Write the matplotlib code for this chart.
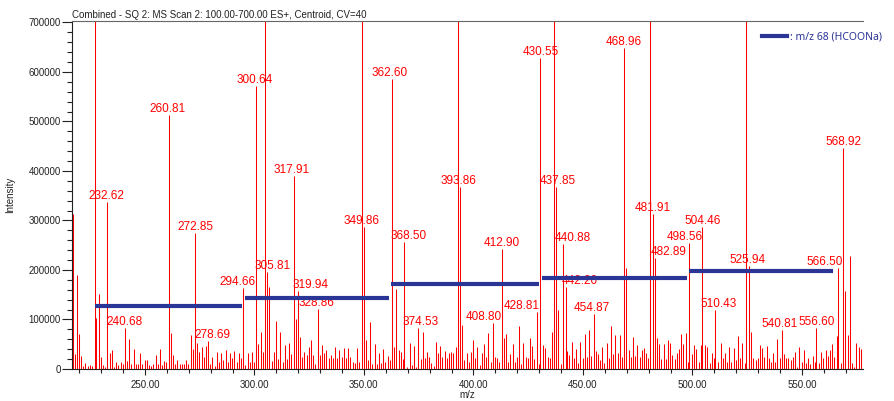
import matplotlib
matplotlib.use("Agg")
import matplotlib.pyplot as plt
from matplotlib.ticker import MultipleLocator, FormatStrFormatter
from matplotlib.lines import Line2D
import numpy as np

plt.rcParams['font.family'] = ['Liberation Sans', 'DejaVu Sans']

# labelled peaks (m/z, intensity)
peak_mz = [232.62, 240.68, 260.81, 272.85, 278.69, 294.66, 300.64, 305.81, 317.91, 319.94,
           328.86, 349.86, 362.60, 368.50, 374.53, 393.86, 408.80, 412.90, 428.81, 430.55,
           437.85, 440.88, 442.20, 454.87, 468.96, 481.91, 482.89, 498.56, 504.46, 510.43,
           525.94, 540.81, 556.60, 566.50, 568.92]
peak_int = [337000, 83000, 513000, 274000, 57000, 163000, 572000, 195000, 390000, 158000,
            121000, 286000, 586000, 257000, 83000, 367000, 92000, 242000, 116000, 628000,
            367000, 252000, 166000, 111000, 648000, 313000, 225000, 254000, 287000, 120000,
            209000, 78000, 83000, 205000, 446000]
# sideways nudge of some labels (pixels), as the instrument software placed them
label_shift = [0, 0, -1, 0, 5, -5, -1, 5, -2, 12,
               -1, -2, -2, 4, 3, -1, -9, 0, -15, 0,
               1, 10, 14, -2, -1, 0, 14, -5, 0, 3,
               -2, -2, 0, -13, 0]

# off-scale peaks (run past the top of the plot)
tall_mz = [227.0, 304.8, 349.0, 392.9, 436.8, 480.6, 524.4]
tall_int = [950000, 950000, 950000, 950000, 950000, 950000, 950000]

# unlabelled peak right at the left edge
edge_mz = [217.1]
edge_int = [314000]

# small unlabelled peaks, one per nominal mass starting at 216 (x1000 counts)
noise_start = 216
noise_k = [
    0, 30, 190, 71, 27, 7, 13, 6, 8, 6,
    0, 103, 151, 25, 8, 5, 0, 33, 38, 5,
    15, 8, 15, 10, 0, 16, 60, 10, 40, 10,
    10, 33, 10, 19, 19, 8, 6, 10, 29, 10,
    40, 8, 16, 14, 0, 73, 29, 10, 19, 10,
    10, 10, 18, 10, 69, 41, 0, 52, 35, 45,
    25, 47, 0, 10, 25, 6, 35, 15, 32, 18,
    38, 15, 33, 22, 37, 15, 32, 22, 0, 8,
    32, 15, 35, 15, 0, 50, 75, 34, 0, 0,
    166, 16, 35, 96, 20, 75, 15, 48, 20, 52,
    30, 0, 102, 0, 65, 25, 35, 28, 45, 59,
    28, 11, 0, 28, 48, 32, 38, 22, 28, 22,
    45, 22, 38, 25, 42, 22, 42, 25, 15, 12,
    42, 15, 0, 0, 59, 18, 94, 11, 50, 10,
    33, 12, 40, 15, 26, 18, 0, 45, 161, 38,
    35, 20, 0, 5, 52, 8, 46, 5, 0, 20,
    75, 22, 35, 25, 13, 6, 54, 32, 47, 24,
    36, 22, 32, 35, 33, 45, 28, 0, 89, 18,
    32, 15, 35, 59, 22, 45, 8, 32, 50, 25,
    72, 15, 0, 25, 22, 15, 0, 63, 71, 15,
    30, 50, 15, 25, 86, 10, 53, 25, 22, 62,
    46, 20, 0, 10, 0, 48, 42, 25, 22, 75,
    0, 0, 119, 10, 0, 0, 37, 28, 55, 22,
    40, 12, 55, 22, 71, 25, 79, 26, 0, 37,
    30, 18, 45, 12, 52, 22, 86, 30, 69, 32,
    69, 25, 0, 205, 38, 25, 65, 26, 48, 25,
    38, 42, 32, 22, 0, 0, 0, 62, 50, 20,
    50, 20, 59, 52, 28, 20, 32, 40, 71, 50,
    72, 15, 0, 30, 48, 40, 15, 48, 0, 48,
    45, 12, 32, 22, 0, 15, 53, 22, 33, 15,
    45, 15, 42, 18, 67, 22, 52, 12, 0, 0,
    75, 22, 18, 22, 48, 42, 25, 46, 22, 15,
    32, 15, 61, 22, 0, 30, 22, 22, 18, 25,
    34, 5, 45, 15, 38, 13, 22, 10, 27, 15,
    0, 12, 35, 22, 38, 27, 38, 50, 25, 67,
    0, 13, 0, 158, 69, 229, 12, 5, 53, 45,
    40, 91,
]

# m/z 68 (HCOONa) steps
seg_start = [227.2, 295.7, 362.3, 431.3, 498.4]
seg_end = [294.3, 361.4, 429.9, 497.5, 564.2]
seg_level = [126700, 142800, 171700, 184400, 197400]

red = '#FF0000'
navy = '#2B3595'

fig = plt.figure(figsize=(8.95, 4.01), dpi=100)
ax = fig.add_axes([72 / 895, 32 / 401, 791 / 895, 348 / 401])

noise_mz = noise_start + 0.85 + np.arange(len(noise_k))
noise_int = np.array(noise_k) * 1000.0
keep = noise_int > 0
ax.vlines(noise_mz[keep], 0, noise_int[keep], colors=red, linewidth=0.75, zorder=2)
ax.vlines(edge_mz, 0, edge_int, colors=red, linewidth=0.75, zorder=2)
ax.vlines(tall_mz, 0, tall_int, colors=red, linewidth=0.75, zorder=2)
ax.vlines(peak_mz, 0, peak_int, colors=red, linewidth=0.75, zorder=2)

for mz, h, dx in zip(peak_mz, peak_int, label_shift):
    ax.annotate(f"{mz:.2f}", (mz, h), xytext=(dx * 0.72, 0), textcoords='offset points',
                ha='center', va='bottom', color=red, fontsize=8.5, zorder=3)

ax.hlines(seg_level, seg_start, seg_end, colors=navy, linewidth=3.0, zorder=4)

ax.set_xlim(216.7, 577.9)
ax.set_ylim(0, 703000)

ax.xaxis.set_major_locator(MultipleLocator(50))
ax.xaxis.set_minor_locator(MultipleLocator(10))
ax.xaxis.set_major_formatter(FormatStrFormatter('%.2f'))
ax.yaxis.set_major_locator(MultipleLocator(100000))
ax.yaxis.set_minor_locator(MultipleLocator(20000))
ax.yaxis.set_major_formatter(FormatStrFormatter('%d'))

ax.tick_params(axis='both', which='major', labelsize=7, colors='#222222', width=0.8)
ax.tick_params(axis='y', which='major', length=7, pad=1)
ax.tick_params(axis='y', which='minor', length=3.5, width=0.8, colors='#222222')
ax.tick_params(axis='x', which='major', length=4, pad=4)
ax.tick_params(axis='x', which='minor', length=3, width=0.8, colors='#222222')

ax.spines['right'].set_visible(False)
ax.spines['top'].set_color('#666666')
ax.spines['left'].set_color('#222222')
ax.spines['bottom'].set_color('#222222')
for s in ax.spines.values():
    s.set_linewidth(0.8)

ax.set_ylabel('Intensity', fontsize=7, color='#222222')
ax.yaxis.set_label_coords(-0.072, 0.5)
ax.set_xlabel('m/z', fontsize=7, color='#222222')
ax.xaxis.set_label_coords(0.5, -0.06)

ax.set_title('Combined - SQ 2: MS Scan 2: 100.00-700.00 ES+, Centroid, CV=40',
             loc='left', fontsize=7, color='#222222', pad=2)

handle = Line2D([], [], color=navy, linewidth=3.0)
ax.legend([handle], [': m/z 68 (HCOONa)'], loc='center left', bbox_to_anchor=(0.872, 0.955),
          frameon=False, handlelength=2.4, handletextpad=0.3, borderpad=0, borderaxespad=0,
          prop={'family': 'Noto Sans', 'size': 7.5}, labelcolor=navy)

fig.savefig('out.png', dpi=100)
